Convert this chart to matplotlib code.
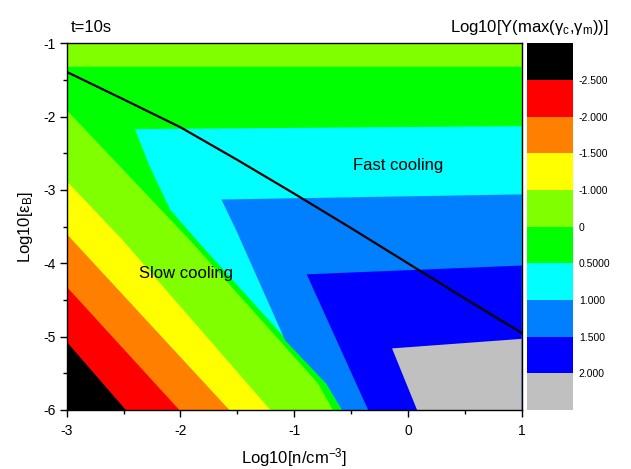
import numpy as np
import matplotlib
matplotlib.use('Agg')
import matplotlib.pyplot as plt
from matplotlib.colors import ListedColormap, BoundaryNorm
from matplotlib.cm import ScalarMappable
from matplotlib.ticker import MultipleLocator

plt.rcParams['font.family'] = ['Liberation Sans', 'DejaVu Sans']
plt.rcParams['mathtext.fontset'] = 'custom'
plt.rcParams['mathtext.rm'] = 'Liberation Sans'
plt.rcParams['mathtext.it'] = 'Liberation Sans:italic'
plt.rcParams['axes.unicode_minus'] = False

# contour levels of Log10[Y] and their fill colours (lowest first)
levels = [-2.5, -2.0, -1.5, -1.0, 0.0, 0.5, 1.0, 1.5, 2.0]
level_labels = ['-2.500', '-2.000', '-1.500', '-1.000', '0',
                '0.5000', '1.000', '1.500', '2.000']
level_colors = ['#000000', '#ff0000', '#ff8000', '#ffff00', '#80ff00',
                '#00ff00', '#00ffff', '#0080ff', '#0000ff', '#c0c0c0']

# lower-left boundary of the region Y > level, traced from top to bottom
edge_x = [
    [-3.0, -3.0, -2.48],
    [-3.0, -3.0, -2.01],
    [-3.0, -3.0, -1.57],
    [-3.0, -3.0, -2.51, -1.21],
    [-3.0, -3.0, -1.92, -0.79, -0.66],
    [-2.40, -2.27, -2.09, -1.86, -0.72, -0.58],
    [-1.64, -1.51, -1.08, -0.72, -0.58],
    [-0.89, -0.35],
    [-0.14, 0.08],
]
edge_y = [
    [-1.0, -5.07, -6.0],
    [-1.0, -4.32, -6.0],
    [-1.0, -3.60, -6.0],
    [-1.0, -2.88, -3.68, -6.0],
    [-1.32, -1.91, -3.68, -5.64, -6.0],
    [-2.17, -2.68, -3.27, -3.68, -5.64, -6.0],
    [-3.13, -3.55, -5.05, -5.64, -6.0],
    [-4.15, -6.0],
    [-5.16, -6.0],
]
# height at which each boundary reaches n = 10 cm^-3
edge_right_y = [-1.0, -1.0, -1.0, -1.0, -1.32, -2.13, -3.06, -4.03, -5.03]

# fast / slow cooling transition
line_n = [-3.0, -2.5, -2.0, -1.5, -1.0, -0.5, 0.0, 0.5, 1.0]
line_eps = [-1.39, -1.765, -2.145, -2.59, -3.05, -3.52, -4.00, -4.48, -4.95]

xmin, xmax, ymin, ymax = -3, 1, -6, -1

fig = plt.figure(figsize=(6.31, 4.69), dpi=100)
ax = fig.add_axes([0.1057, 0.1258, 0.7211, 0.7819])

# paint the filled contours from the lowest level up
ax.fill([xmin, xmax, xmax, xmin], [ymin, ymin, ymax, ymax],
        color=level_colors[0], lw=0)
for k in range(len(levels)):
    xs = list(edge_x[k]) + [xmax, xmax]
    ys = list(edge_y[k]) + [ymin, edge_right_y[k]]
    ax.fill(xs, ys, color=level_colors[k + 1], lw=0)

ax.plot(line_n, line_eps, color='k', lw=1.6)

ax.text(-0.09, -2.66, 'Fast cooling', fontsize=12, ha='center', va='center')
ax.text(-1.95, -4.14, 'Slow cooling', fontsize=12, ha='center', va='center')

ax.set_xlim(xmin, xmax)
ax.set_ylim(ymin, ymax)
ax.xaxis.set_major_locator(MultipleLocator(1))
ax.xaxis.set_minor_locator(MultipleLocator(0.5))
ax.yaxis.set_major_locator(MultipleLocator(1))
ax.yaxis.set_minor_locator(MultipleLocator(0.5))
ax.tick_params(which='major', direction='out', length=5, width=1,
               labelsize=10)
ax.tick_params(axis='x', which='major', pad=5)
ax.tick_params(axis='y', which='major', pad=3)
ax.tick_params(which='minor', direction='out', length=3, width=1)
for s in ax.spines.values():
    s.set_linewidth(1)

ax.set_xlabel(r'Log10[n/cm$^{-3}$]', fontsize=12, labelpad=6)
ax.set_ylabel(r'Log10[$\mathregular{\varepsilon_B}$]', fontsize=12, labelpad=6)

fig.text(0.1125, 0.931, 't=10s', fontsize=12, ha='left', va='baseline')

# colour scale
cax = fig.add_axes([527.3 / 631, 0.1258, 46 / 631, 0.7819])
cmap = ListedColormap(level_colors)
norm = BoundaryNorm(np.arange(11), 10)
cb = fig.colorbar(ScalarMappable(norm=norm, cmap=cmap), cax=cax,
                  ticks=np.arange(1, 10))
cb.ax.invert_yaxis()
cb.set_ticklabels(level_labels)
cb.ax.minorticks_off()
cb.outline.set_visible(False)
cb.ax.tick_params(which='both', length=0, labelsize=7.5, pad=4)
fig.text(0.9656, 0.932,
         r'Log10[Y(max($\mathregular{\gamma_c}$,$\mathregular{\gamma_m}$))]',
         fontsize=12, ha='right', va='baseline')

fig.savefig('out.png', dpi=100)
